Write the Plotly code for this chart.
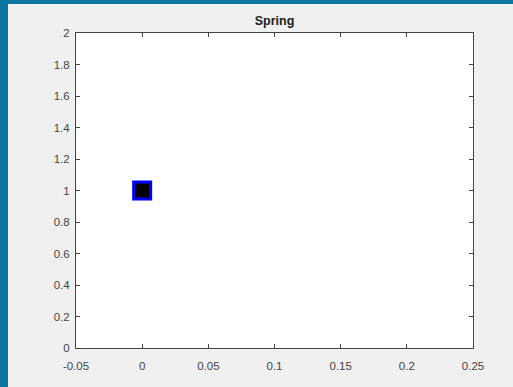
import plotly.graph_objects as go

# Data
x_vals = [0.0]
y_vals = [1.0]
x_ticks = [-0.05, 0, 0.05, 0.1, 0.15, 0.2, 0.25]
x_tick_labels = ["-0.05", "0", "0.05", "0.1", "0.15", "0.2", "0.25"]
y_ticks = [0, 0.2, 0.4, 0.6, 0.8, 1, 1.2, 1.4, 1.6, 1.8, 2]
y_tick_labels = ["0", "0.2", "0.4", "0.6", "0.8", "1", "1.2", "1.4", "1.6", "1.8", "2"]
title_text = "Spring"

OFF_X, OFF_Y = 8, 4
W, H = 513 - OFF_X, 387 - OFF_Y
ML, MR, MT, MB = 76 - OFF_X, 40, 33 - OFF_Y, 39
PW, PH = W - ML - MR, H - MT - MB

fig = go.Figure()
fig.add_trace(go.Scatter(x=x_vals, y=y_vals, mode="markers",
                         marker=dict(symbol="square", size=17, color="black",
                                     line=dict(color="#0000FF", width=3)),
                         showlegend=False, hoverinfo="skip"))

axis_common = dict(showgrid=False, zeroline=False, showline=True, linecolor="#444444",
                   linewidth=1, mirror="ticks", ticks="inside", ticklen=4,
                   tickcolor="#444444", tickfont=dict(family="Liberation Sans, Arial", size=11.5, color="#444444"))

fig.update_layout(
    width=W, height=H,
    margin=dict(l=ML, r=MR, t=MT, b=MB, pad=0),
    paper_bgcolor="#F0F0F0", plot_bgcolor="white",
    title=dict(text="<b>" + title_text + "</b>", x=(ML + PW / 2) / W, xanchor="center",
               y=1 - (21 - OFF_Y) / H, yanchor="middle",
               font=dict(family="Liberation Sans, Arial", size=12.5, color="#222222")),
    xaxis=dict(range=[-0.05, 0.25], tickvals=x_ticks, ticktext=x_tick_labels,
               ticklabelstandoff=7, **axis_common),
    yaxis=dict(range=[0, 2], tickvals=y_ticks, ticktext=y_tick_labels,
               ticklabelstandoff=3, **axis_common),
)

fig.write_html("out.html", config={"displayModeBar": False},
               post_script=("document.documentElement.style.background='#0B77A0';"
                            "document.body.style.background='#0B77A0';"
                            "document.body.style.margin='0';"
                            "document.body.style.padding='4px 0 0 8px';"
                            "document.body.style.overflow='hidden';"
                            "document.documentElement.style.overflow='hidden';"))
